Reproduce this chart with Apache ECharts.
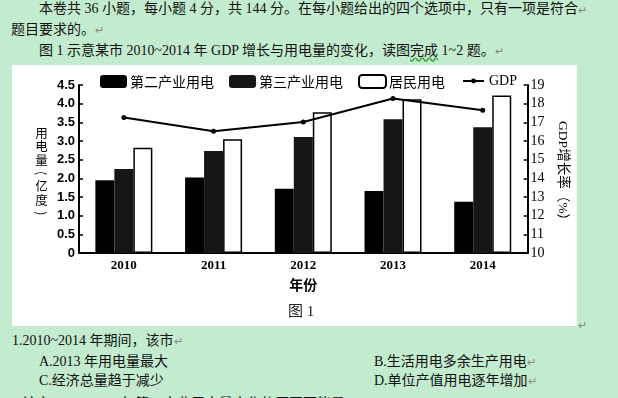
<!DOCTYPE html>
<html>
<head>
<meta charset="utf-8">
<script src="https://cdn.jsdelivr.net/npm/echarts@6/dist/echarts.min.js"></script>
<style>
  html, body { margin: 0; padding: 0; }
  body {
    width: 618px; height: 398px; overflow: hidden; position: relative;
    background: #c3ebcf;
    font-family: "Liberation Serif", "Noto Sans CJK SC", serif;
    font-size: 14px; color: #111;
  }
  .ln { position: absolute; white-space: nowrap; line-height: 18px; }
  .mk { color: #888; font-size: 11px; }
  .wavy { text-decoration: underline wavy #3a9a3a; text-underline-offset: 2px; }
  #panel { position: absolute; left: 12px; top: 65px; width: 565px; height: 261px; background: #fff; }
</style>
</head>
<body>
<div class="ln" style="left:39px; top:0px; width:537px; text-align:justify; text-align-last:justify;">本卷共 36 小题，每小题 4 分，共 144 分。在每小题给出的四个选项中，只有一项是符合</div>
<div class="ln mk" style="left:578px; top:1px;">↵</div>
<div class="ln" style="left:11px; top:21px;">题目要求的。<span class="mk">↵</span></div>
<div class="ln" style="left:39px; top:42px;">图 1 示意某市 2010~2014 年 GDP 增长与用电量的变化，读图<span class="wavy">完成</span> 1~2 题。<span class="mk">↵</span></div>

<div id="panel"></div>
<div class="ln mk" style="left:578px; top:316px;">↵</div>

<div class="ln" style="left:12px; top:332px;">1.2010~2014 年期间，该市<span class="mk">↵</span></div>
<div class="ln" style="left:39px; top:353px;">A.2013 年用电量最大</div>
<div class="ln" style="left:374px; top:353px;">B.生活用电多余生产用电<span class="mk">↵</span></div>
<div class="ln" style="left:39px; top:372px;">C.经济总量趋于减少</div>
<div class="ln" style="left:374px; top:372px;">D.单位产值用电逐年增加<span class="mk">↵</span></div>
<div class="ln" style="left:12px; top:395px;">2.该市 2010~2014 年第二产业用电量变化的原因可能是<span class="mk">↵</span></div>

<script>
// 图 1 数据
const years = ['2010', '2011', '2012', '2013', '2014'];
const secondIndustry = [1.95, 2.02, 1.72, 1.66, 1.37];   // 第二产业用电（亿度）
const tertiaryIndustry = [2.25, 2.73, 3.11, 3.58, 3.37]; // 第三产业用电
const residential = [2.82, 3.05, 3.77, 4.12, 4.22];      // 居民用电
const gdpGrowth = [17.26, 16.52, 17.02, 18.28, 17.65];   // GDP 增长率（%）

const leftTicks = { min: 0, max: 4.5, interval: 0.5 };
const rightTicks = { min: 10, max: 19, interval: 1 };
const leftAxisName = ['用', '电', '量', '(', '亿', '度', ')'];

const chart = echarts.init(document.getElementById('panel'), null, { renderer: 'canvas' });

const sans = '"Liberation Sans", "Noto Sans CJK SC", sans-serif';
const cjk = '"Noto Sans CJK SC", sans-serif';
const serif = '"Liberation Serif", "Noto Sans CJK SC", serif';

const barSeries = (name, data, style) => ({
    name: name,
    type: 'bar',
    yAxisIndex: 0,
    barWidth: 19,
    barGap: '0%',
    itemStyle: style,
    data: data
});

// 左轴名称：竖排，括号旋转成竖排样式
const leftNameGraphic = leftAxisName.map((ch, i) => ({
    type: 'text',
    x: 29.5,
    y: 68 + i * 13.4,
    rotation: (ch === '(' || ch === ')') ? -Math.PI / 2 : 0,
    style: {
        text: ch,
        fontFamily: cjk,
        fontSize: 12.5,
        fill: '#000',
        align: 'center',
        verticalAlign: 'middle'
    }
}));

const legendText = { fontFamily: cjk, fontSize: 14, color: '#000', padding: [0, 0, 0, -2] };

const option = {
    backgroundColor: 'transparent',
    animation: false,
    legend: [
        {
            left: 88,
            top: 9,
            padding: 0,
            itemWidth: 27,
            itemHeight: 13,
            itemGap: 15,
            textStyle: legendText,
            data: ['第二产业用电', '第三产业用电', '居民用电']
        },
        {
            left: 450,
            top: 9,
            padding: 0,
            itemWidth: 21,
            itemHeight: 6,
            textStyle: { fontFamily: serif, fontSize: 14, color: '#000', padding: [0, 0, 0, 0] },
            data: ['GDP']
        }
    ],
    grid: { left: 67, right: 46, top: 20, bottom: 73 },
    xAxis: {
        type: 'category',
        data: years,
        name: '年份',
        nameLocation: 'middle',
        nameGap: 25,
        nameTextStyle: { fontFamily: cjk, fontSize: 14, fontWeight: 'bold', color: '#000' },
        axisLine: { lineStyle: { color: '#000', width: 2 } },
        axisTick: { show: false },
        axisLabel: { margin: 6, fontFamily: serif, fontSize: 13, fontWeight: 'bold', color: '#000' }
    },
    yAxis: [
        {
            type: 'value',
            min: leftTicks.min,
            max: leftTicks.max,
            interval: leftTicks.interval,
            splitLine: { show: false },
            axisLine: { show: true, lineStyle: { color: '#000', width: 2 } },
            axisTick: { show: true, inside: true, length: 4, lineStyle: { color: '#000', width: 1.5 } },
            axisLabel: {
                margin: 4, fontFamily: sans, fontSize: 13, fontWeight: 'bold', color: '#000',
                formatter: v => (v === 0 ? '0' : v.toFixed(1))
            }
        },
        {
            type: 'value',
            position: 'right',
            min: rightTicks.min,
            max: rightTicks.max,
            interval: rightTicks.interval,
            name: 'GDP增长率（%）',
            nameLocation: 'middle',
            nameRotate: -90,
            nameGap: 27,
            nameTextStyle: {
                fontFamily: serif, fontSize: 13.5, color: '#000',
                align: 'center', verticalAlign: 'middle', padding: [0, 0, 0, 10]
            },
            splitLine: { show: false },
            axisLine: { show: true, lineStyle: { color: '#000', width: 2 } },
            axisTick: { show: true, inside: true, length: 4, lineStyle: { color: '#000', width: 1.5 } },
            axisLabel: { margin: 3, fontFamily: serif, fontSize: 14, color: '#000' }
        }
    ],
    graphic: leftNameGraphic.concat([
        {
            type: 'text',
            left: 276,
            top: 240,
            style: { text: '图 1', fontFamily: serif, fontSize: 15, fill: '#222' }
        }
    ]),
    series: [
        barSeries('第二产业用电', secondIndustry, { color: '#000' }),
        barSeries('第三产业用电', tertiaryIndustry, { color: '#161616' }),
        barSeries('居民用电', residential, { color: '#fff', borderColor: '#000', borderWidth: 1.5 }),
        {
            name: 'GDP',
            type: 'line',
            yAxisIndex: 1,
            symbol: 'circle',
            symbolSize: 5,
            z: 5,
            itemStyle: { color: '#000' },
            lineStyle: { color: '#000', width: 2 },
            data: gdpGrowth
        }
    ]
};

chart.setOption(option);
</script>
</body>
</html>
